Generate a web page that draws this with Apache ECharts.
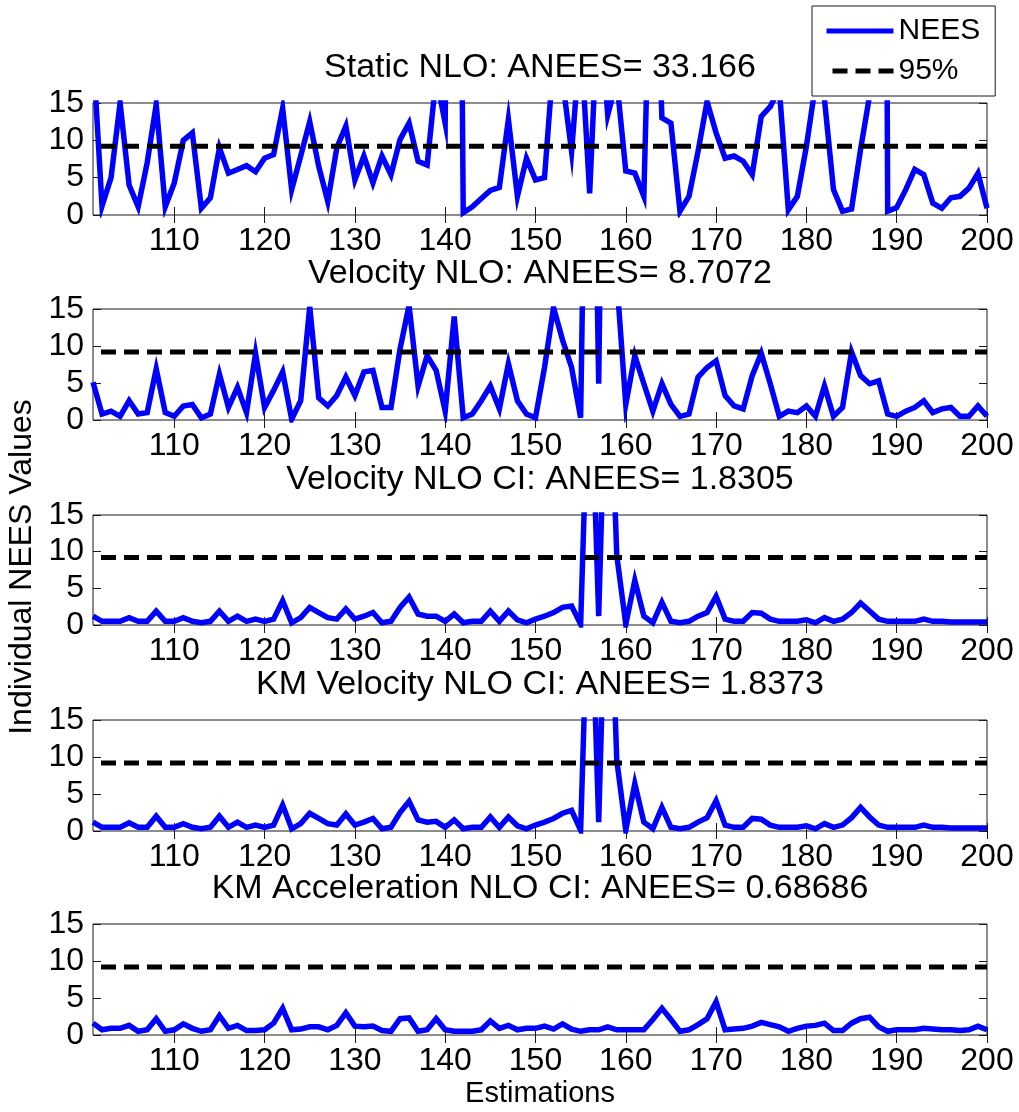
<!DOCTYPE html>
<html>
<head>
<meta charset="utf-8">
<script src="https://cdn.jsdelivr.net/npm/echarts@6/dist/echarts.min.js"></script>
<style>
html,body{margin:0;padding:0;background:#fff;}
#chart{width:1019px;height:1112px;}
</style>
</head>
<body>
<div id="chart"></div>
<script>
// ---- data ----
const X_FIRST = 101, X_LAST = 200;
const X_TICKS = [110, 120, 130, 140, 150, 160, 170, 180, 190, 200];
const THRESHOLD_95 = 9.2;

const TITLES = [
  'Static NLO: ANEES= 33.166',
  'Velocity NLO: ANEES= 8.7072',
  'Velocity NLO CI: ANEES= 1.8305',
  'KM Velocity NLO CI: ANEES= 1.8373',
  'KM Acceleration NLO CI: ANEES= 0.68686'
];

const staticNLO = [
  22, 1.2, 5, 15, 4, 1.1, 7, 14.8, 1.1, 4.3,
  10, 11, 0.9, 2.3, 9, 5.6, 6.1, 6.6, 5.8, 7.6,
  8.1, 14.3, 3.4, 7.9, 12.5, 6.5, 1.8, 9, 11.9, 4.7,
  7.9, 4.3, 7.9, 5.4, 10.1, 12.3, 7.2, 6.7, 18.5, 12.3,
  150, 0.3, 1.1, 2.2, 3.3, 3.7, 12.8, 2.5, 7.6, 4.7,
  5, 21, 18, 8.5, 24, 2.9, 30, 13.4, 18, 5.9,
  5.6, 2.5, 50, 13, 12.3, 0.5, 2.5, 8.5, 15.2, 11,
  7.6, 7.9, 7.2, 5.4, 13.2, 14.5, 17, 0.7, 2.5, 9.2,
  17.4, 15.5, 3.4, 0.5, 0.8, 8.8, 16, 300, 0.5, 1,
  3.4, 6.1, 5.4, 1.6, 0.9, 2.3, 2.5, 3.6, 5.6, 0.9
];

const velocityNLO = [
  5.1, 0.8, 1.2, 0.5, 2.6, 0.8, 1, 6.9, 1, 0.5,
  1.9, 2.1, 0.3, 0.8, 6.2, 1.7, 4.4, 1, 9, 1.7,
  4, 6.5, 0.1, 2.6, 15.3, 3, 1.9, 3.3, 5.8, 3.3,
  6.5, 6.7, 1.7, 1.7, 9.6, 15.5, 4.6, 8.7, 6.7, 1.2,
  14, 0.3, 0.8, 2.6, 4.6, 1.5, 7.6, 2.6, 0.8, 0.3,
  7.1, 15.2, 10.8, 7.1, 0.3, 80, 4.9, 100, 19, 2.1,
  8.7, 4.9, 1.2, 4.9, 2.1, 0.5, 0.8, 5.8, 7.1, 8,
  3.3, 1.9, 1.5, 6, 9, 4.9, 0.5, 1.2, 1, 1.9,
  0.5, 4.6, 0.5, 1.7, 9.2, 6, 4.9, 5.3, 0.8, 0.5,
  1.2, 1.7, 2.6, 1, 1.5, 1.7, 0.5, 0.5, 1.9, 0.5
];

const velocityNLOCI = [
  1.2, 0.5, 0.5, 0.5, 1, 0.5, 0.5, 1.9, 0.5, 0.5,
  1, 0.5, 0.3, 0.5, 1.9, 0.5, 1.2, 0.5, 0.8, 0.5,
  0.8, 3.3, 0.3, 1, 2.4, 1.7, 1, 0.8, 2.2, 0.8,
  1.2, 1.7, 0.3, 0.5, 2.4, 3.8, 1.5, 1.2, 1.2, 0.5,
  1.5, 0.3, 0.5, 0.5, 1.9, 0.5, 1.9, 0.7, 0.3, 0.8,
  1.2, 1.7, 2.4, 2.6, 0.1, 40, 1.2, 45, 9.5, 0.1,
  6.1, 1.2, 0.3, 3.1, 0.5, 0.3, 0.5, 1.2, 1.7, 3.9,
  0.8, 0.5, 0.5, 1.7, 1.6, 0.8, 0.5, 0.5, 0.5, 0.7,
  0.3, 1, 0.5, 0.8, 1.7, 3, 1.9, 0.8, 0.5, 0.5,
  0.5, 0.5, 0.8, 0.5, 0.5, 0.4, 0.4, 0.4, 0.4, 0.4
];

const kmVelocityNLOCI = [
  1.2, 0.5, 0.5, 0.5, 1.1, 0.5, 0.5, 2, 0.5, 0.5,
  1, 0.5, 0.3, 0.5, 2, 0.5, 1.2, 0.5, 0.8, 0.5,
  0.8, 3.5, 0.3, 1, 2.4, 1.7, 1, 0.8, 2.3, 0.8,
  1.2, 1.7, 0.3, 0.5, 2.5, 4, 1.5, 1.2, 1.3, 0.5,
  1.5, 0.3, 0.5, 0.5, 1.9, 0.5, 1.9, 0.7, 0.3, 0.8,
  1.2, 1.7, 2.4, 2.8, 0.1, 40, 1.2, 45, 9.6, 0.1,
  6.4, 1.2, 0.3, 3.2, 0.5, 0.3, 0.5, 1.2, 1.8, 4.1,
  0.8, 0.5, 0.5, 1.7, 1.6, 0.8, 0.5, 0.5, 0.5, 0.7,
  0.3, 1, 0.5, 0.8, 1.8, 3.2, 1.9, 0.8, 0.5, 0.5,
  0.5, 0.5, 0.8, 0.5, 0.5, 0.4, 0.4, 0.4, 0.4, 0.4
];

const kmAccelerationNLOCI = [
  1.6, 0.7, 0.9, 0.9, 1.3, 0.5, 0.7, 2.2, 0.5, 0.7,
  1.5, 0.9, 0.5, 0.7, 2.6, 0.9, 1.3, 0.6, 0.6, 0.7,
  1.6, 3.6, 0.7, 0.8, 1.1, 1.1, 0.7, 1.3, 3, 1.2,
  1.1, 1.2, 0.6, 0.5, 2.2, 2.3, 0.5, 0.7, 2.2, 0.7,
  0.5, 0.5, 0.5, 0.7, 1.9, 0.9, 1.3, 0.7, 0.9, 0.9,
  1.2, 0.8, 1.5, 0.8, 0.5, 0.7, 0.7, 1.1, 0.7, 0.7,
  0.7, 0.7, 2.1, 3.6, 2.1, 0.5, 0.7, 1.4, 2.2, 4.5,
  0.7, 0.8, 0.9, 1.2, 1.7, 1.4, 1.1, 0.5, 0.9, 1.2,
  1.3, 1.6, 0.6, 0.6, 1.6, 2.2, 2.4, 1.1, 0.5, 0.7,
  0.7, 0.7, 0.9, 0.8, 0.7, 0.7, 0.6, 0.7, 1.2, 0.7
];

const SERIES_VALUES = [staticNLO, velocityNLO, velocityNLOCI, kmVelocityNLOCI, kmAccelerationNLOCI];

// ---- layout / style ----
const FONT = "'Liberation Sans', Arial, sans-serif";
const GRID_TOPS = [103, 309, 515, 720, 924];
const GRID_HEIGHTS = [112, 111, 110, 111, 111];
const GRID_LEFT = 93, GRID_RIGHT = 32;
const AX = '#1a1a1a';
const DASH = [15, 8];

const grid = [], xAxis = [], yAxis = [], series = [], graphic = [];

SERIES_VALUES.forEach((vals, i) => {
  grid.push({left: GRID_LEFT, right: GRID_RIGHT, top: GRID_TOPS[i], height: GRID_HEIGHTS[i],
    show: true, borderColor: AX, borderWidth: 1, backgroundColor: '#fff', containLabel: false});
  const tickBase = {show: true, inside: true, length: 8, lineStyle: {color: AX, width: 1}};
  xAxis.push({type: 'value', gridIndex: i, position: 'bottom', min: X_FIRST, max: X_LAST,
    axisLine: {show: false}, splitLine: {show: false},
    axisTick: Object.assign({customValues: X_TICKS}, tickBase),
    axisLabel: {customValues: X_TICKS, fontSize: 32, fontFamily: FONT, color: '#000', margin: 10},
    name: i === SERIES_VALUES.length - 1 ? 'Estimations' : '',
    nameLocation: 'middle', nameGap: 44,
    nameTextStyle: {fontSize: 29, fontFamily: FONT, color: '#000'}
  });
  xAxis.push({type: 'value', gridIndex: i, position: 'top', min: X_FIRST, max: X_LAST,
    axisLine: {show: false}, splitLine: {show: false},
    axisTick: Object.assign({customValues: X_TICKS}, tickBase),
    axisLabel: {show: false}
  });
  yAxis.push({type: 'value', gridIndex: i, position: 'left', min: 0, max: 15, interval: 5,
    axisLine: {show: false}, splitLine: {show: false},
    axisTick: tickBase,
    axisLabel: {fontSize: 32, fontFamily: FONT, color: '#000', margin: 9}
  });
  yAxis.push({type: 'value', gridIndex: i, position: 'right', min: 0, max: 15, interval: 5,
    axisLine: {show: false}, splitLine: {show: false},
    axisTick: tickBase, axisLabel: {show: false}
  });
  const pts = vals.map((v, k) => [X_FIRST + k, v]);
  series.push({name: 'NEES', type: 'line', xAxisIndex: 2 * i, yAxisIndex: 2 * i,
    data: pts, symbol: 'none', showSymbol: false, clip: true,
    lineStyle: {color: '#0000ff', width: 5.5, join: 'miter'}, itemStyle: {color: '#0000ff'},
    z: 2, animation: false});
  series.push({name: '95%', type: 'line', xAxisIndex: 2 * i, yAxisIndex: 2 * i,
    data: [[X_FIRST, THRESHOLD_95], [X_LAST, THRESHOLD_95]], symbol: 'none', showSymbol: false,
    lineStyle: {color: '#000', width: 5, type: DASH, dashOffset: -8}, itemStyle: {color: '#000'},
    z: 3, animation: false});
  graphic.push({type: 'text', x: GRID_LEFT + (1019 - GRID_LEFT - GRID_RIGHT) / 2, y: GRID_TOPS[i] - 35,
    style: {text: TITLES[i], font: '34px ' + FONT, fill: '#000', textAlign: 'center', textVerticalAlign: 'middle'}});
});

graphic.push({type: 'text', x: 22, y: 567, rotation: Math.PI / 2,
  style: {text: 'Individual NEES Values', font: '32px ' + FONT, fill: '#000', textAlign: 'center', textVerticalAlign: 'middle'}});

const chart = echarts.init(document.getElementById('chart'), null, {renderer: 'canvas'});
chart.setOption({
  animation: false,
  backgroundColor: '#fff',
  grid, xAxis, yAxis, series, graphic,
  legend: {
    data: [
      {name: 'NEES', itemStyle: {opacity: 0}, lineStyle: {width: 5, color: '#0000ff'}},
      {name: '95%', itemStyle: {opacity: 0}, lineStyle: {width: 5, color: '#000', type: DASH, dashOffset: -6}}
    ],
    orient: 'vertical', left: 812, top: 6,
    padding: [10, 15, 10, 12], itemGap: 10, itemWidth: 67, itemHeight: 30,
    itemStyle: {opacity: 0}, lineStyle: {width: 5},
    backgroundColor: '#fff', borderColor: AX, borderWidth: 1, borderRadius: 0,
    textStyle: {fontSize: 30, fontFamily: FONT, color: '#000'},
    selectedMode: false
  }
});
</script>
</body>
</html>
